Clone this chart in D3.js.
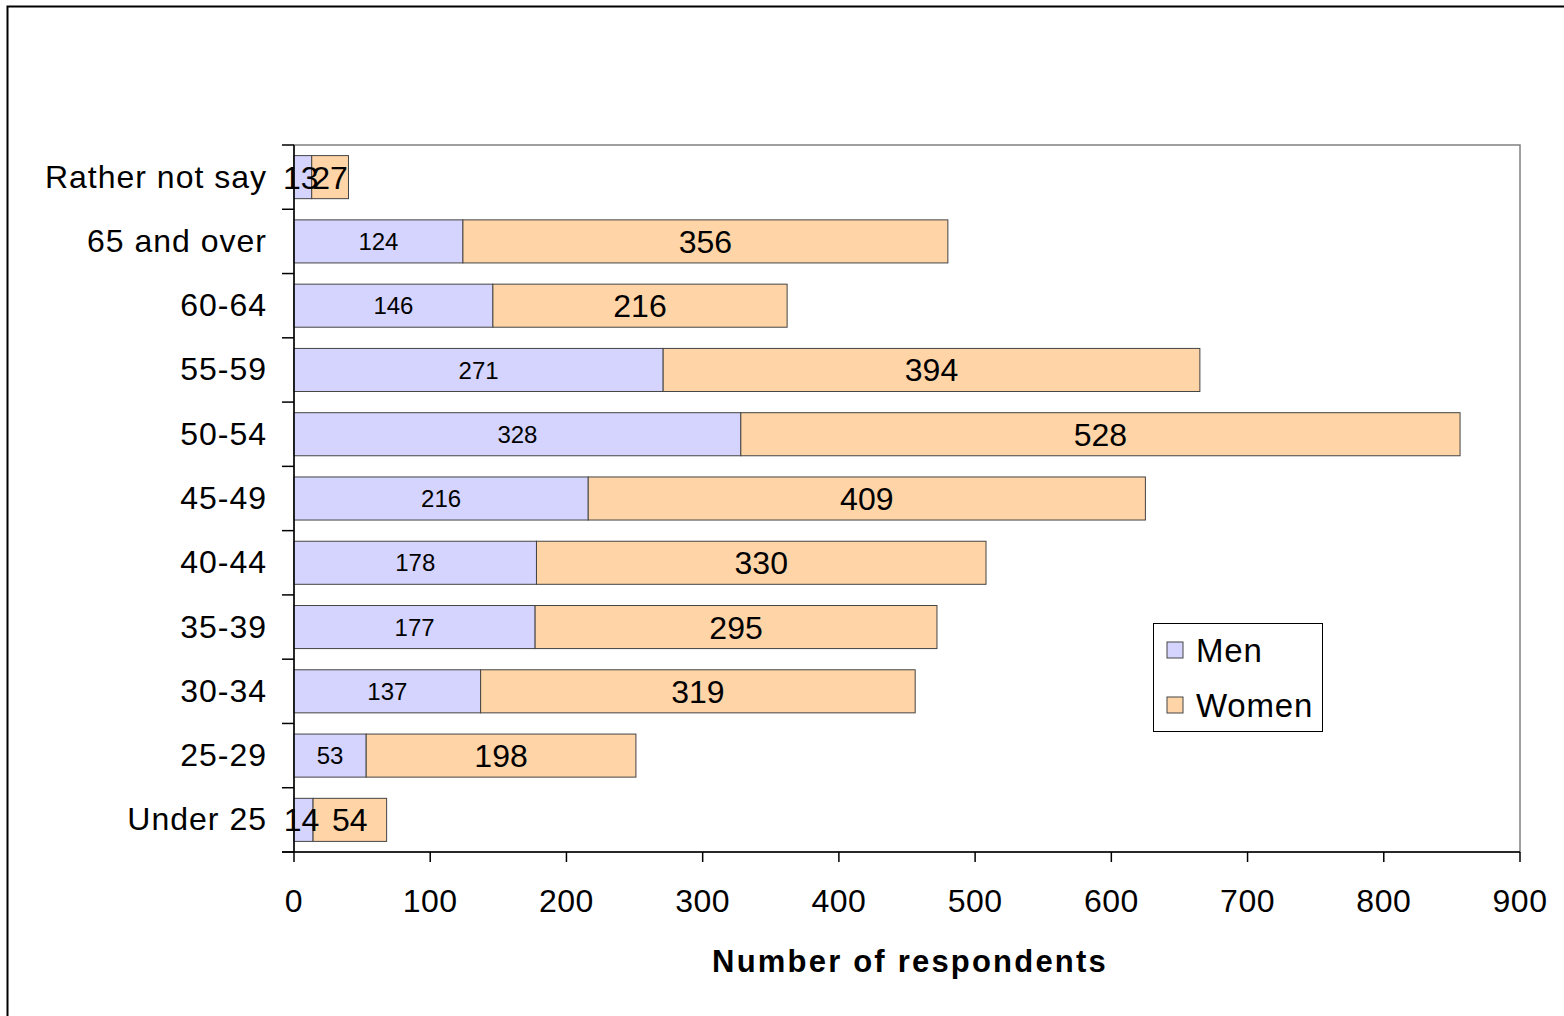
<!DOCTYPE html>
<html>
<head>
<meta charset="utf-8">
<script src="https://cdn.jsdelivr.net/npm/d3@7"></script>
<style>
body { margin: 0; background: #fff; }
text { font-family: "Liberation Sans", Arial, sans-serif; }
</style>
</head>
<body>
<div id="chart"></div>
<script>
var categories = ["Rather not say", "65 and over", "60-64", "55-59", "50-54", "45-49", "40-44", "35-39", "30-34", "25-29", "Under 25"];
var men = [13, 124, 146, 271, 328, 216, 178, 177, 137, 53, 14];
var women = [27, 356, 216, 394, 528, 409, 330, 295, 319, 198, 54];
var seriesNames = ["Men", "Women"];
var xTicks = [0, 100, 200, 300, 400, 500, 600, 700, 800, 900];

var width = 1564, height = 1016;
var plotLeft = 294, plotRight = 1520, plotTop = 145, plotBottom = 852;
var colours = ["#d4d4ff", "#ffd4a6"];

var svg = d3.select("#chart").append("svg")
	.attr("width", width)
	.attr("height", height);

// outer chart border
svg.append("rect")
	.attr("x", 7.5).attr("y", 6.5)
	.attr("width", width).attr("height", height)
	.attr("fill", "none").attr("stroke", "#000").attr("stroke-width", 2);

var x = d3.scaleLinear().domain([0, 900]).range([plotLeft, plotRight]);
var y = d3.scaleBand().domain(categories).range([plotTop, plotBottom]).paddingInner(0.33).paddingOuter(0.165);

// plot area border
svg.append("rect")
	.attr("x", plotLeft).attr("y", plotTop)
	.attr("width", plotRight - plotLeft).attr("height", plotBottom - plotTop)
	.attr("fill", "none").attr("stroke", "#808080").attr("stroke-width", 1.5);

var rows = categories.map(function(c, i) {
	return {cat: c, men: men[i], women: women[i]};
});

var stack = d3.stack().keys(["men", "women"])(rows);

stack.forEach(function(layer, k) {
	svg.append("g").selectAll("rect")
		.data(layer)
		.join("rect")
		.attr("x", function(d) { return x(d[0]); })
		.attr("y", function(d) { return y(d.data.cat); })
		.attr("width", function(d) { return x(d[1]) - x(d[0]); })
		.attr("height", y.bandwidth())
		.attr("fill", colours[k])
		.attr("stroke", "#444")
		.attr("stroke-width", 1);
});

// value labels (men labels small, except the tiny segments which excel drew large)
stack.forEach(function(layer, k) {
	svg.append("g").selectAll("text")
		.data(layer)
		.join("text")
		.attr("x", function(d) { return (x(d[0]) + x(d[1])) / 2 - (k == 0 && d[1] - d[0] < 20 ? 2 : 0); })
		.attr("y", function(d) { return y(d.data.cat) + y.bandwidth() / 2; })
		.attr("dy", "0.36em")
		.attr("text-anchor", "middle")
		.attr("font-size", function(d) { return (k == 1 || d[1] - d[0] < 20) ? 32 : 24; })
		.attr("fill", "#000")
		.text(function(d) { return d[1] - d[0]; });
});

// y axis
var yAxis = svg.append("g");
yAxis.append("line")
	.attr("x1", plotLeft).attr("x2", plotLeft)
	.attr("y1", plotTop).attr("y2", plotBottom)
	.attr("stroke", "#000").attr("stroke-width", 1.5);
var step = (plotBottom - plotTop) / categories.length;
for (var i = 0; i <= categories.length; i++) {
	yAxis.append("line")
		.attr("x1", plotLeft - 12).attr("x2", plotLeft)
		.attr("y1", plotTop + i * step).attr("y2", plotTop + i * step)
		.attr("stroke", "#000").attr("stroke-width", 1.5);
}
yAxis.selectAll("text.cat")
	.data(categories)
	.join("text")
	.attr("class", "cat")
	.attr("x", 267)
	.attr("y", function(d) { return y(d) + y.bandwidth() / 2 - 1; })
	.attr("dy", "0.36em")
	.attr("text-anchor", "end")
	.attr("font-size", 32)
	.attr("letter-spacing", 1)
	.text(function(d) { return d; });

// x axis
var xAxis = svg.append("g");
xAxis.append("line")
	.attr("x1", plotLeft - 12).attr("x2", plotRight)
	.attr("y1", plotBottom).attr("y2", plotBottom)
	.attr("stroke", "#000").attr("stroke-width", 1.5);
xAxis.selectAll("line.tick")
	.data(xTicks)
	.join("line")
	.attr("class", "tick")
	.attr("x1", function(d) { return x(d); }).attr("x2", function(d) { return x(d); })
	.attr("y1", plotBottom).attr("y2", plotBottom + 10)
	.attr("stroke", "#000").attr("stroke-width", 1.5);
xAxis.selectAll("text")
	.data(xTicks)
	.join("text")
	.attr("x", function(d) { return x(d); })
	.attr("y", 912)
	.attr("text-anchor", "middle")
	.attr("font-size", 32)
	.attr("letter-spacing", 0.5)
	.text(function(d) { return d; });

svg.append("text")
	.attr("x", (plotLeft + plotRight) / 2 + 3)
	.attr("y", 972)
	.attr("text-anchor", "middle")
	.attr("font-size", 31)
	.attr("font-weight", "bold")
	.attr("letter-spacing", 2.2)
	.text("Number of respondents");

// legend
var lg = svg.append("g");
lg.append("rect")
	.attr("x", 1153.5).attr("y", 623.5)
	.attr("width", 169).attr("height", 108)
	.attr("fill", "#fff").attr("stroke", "#000").attr("stroke-width", 1);
seriesNames.forEach(function(name, i) {
	var cy = 650 + i * 55;
	lg.append("rect")
		.attr("x", 1167).attr("y", cy - 8)
		.attr("width", 16).attr("height", 16)
		.attr("fill", colours[i]).attr("stroke", "#444").attr("stroke-width", 1);
	lg.append("text")
		.attr("x", 1196).attr("y", cy)
		.attr("dy", "0.36em")
		.attr("font-size", 33)
		.attr("letter-spacing", 0.8)
		.text(name);
});
</script>
</body>
</html>
